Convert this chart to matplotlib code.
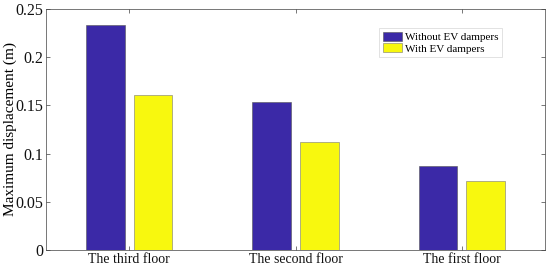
import matplotlib
matplotlib.use("Agg")
import matplotlib.pyplot as plt
import numpy as np

categories = ["The third floor", "The second floor", "The first floor"]
without_ev = [0.233, 0.153, 0.087]
with_ev = [0.1605, 0.112, 0.0715]
series_names = ["Without EV dampers", "With EV dampers"]
yticks = [0, 0.05, 0.1, 0.15, 0.2, 0.25]
ytick_labels = ["0", "0.05", "0.1", "0.15", "0.2", "0.25"]

plt.rcParams['font.family'] = ['Liberation Serif', 'DejaVu Serif']

fig = plt.figure(figsize=(5.5, 2.71), dpi=100)
ax = fig.add_axes([0.0836, 0.0775, 0.9074, 0.8895])

x = np.arange(1, len(categories) + 1)
w = 0.233
off = 0.144
ax.bar(x - off, without_ev, width=w, color="#3B29A7", edgecolor="#555555", linewidth=0.4, label=series_names[0])
ax.bar(x + off, with_ev, width=w, color="#F8F80E", edgecolor="#777777", linewidth=0.4, label=series_names[1])

ax.set_xlim(0.5, 3.5)
ax.set_ylim(0, 0.25)
ax.set_xticks(x)
ax.set_xticklabels(categories, fontsize=10)
ax.set_yticks(yticks)
ax.set_yticklabels(ytick_labels, fontsize=11.5)
ax.set_ylabel("Maximum displacement (m)", fontsize=11)
ax.yaxis.set_label_coords(-0.058, 0.5)
ax.tick_params(direction="in", length=3, width=0.5, colors="#404040", labelcolor="#111111", pad=2,
               top=True, right=True)
for s in ax.spines.values():
    s.set_linewidth(0.5)
    s.set_color("#404040")

leg = ax.legend(loc="upper left", bbox_to_anchor=(0.668, 0.92), fontsize=8, frameon=True,
                fancybox=False, edgecolor="#cccccc", handlelength=1.7, handleheight=0.9,
                handletextpad=0.3, borderpad=0.3, labelspacing=0.1, borderaxespad=0)
leg.get_frame().set_linewidth(0.5)

fig.savefig("out.png", dpi=100)
